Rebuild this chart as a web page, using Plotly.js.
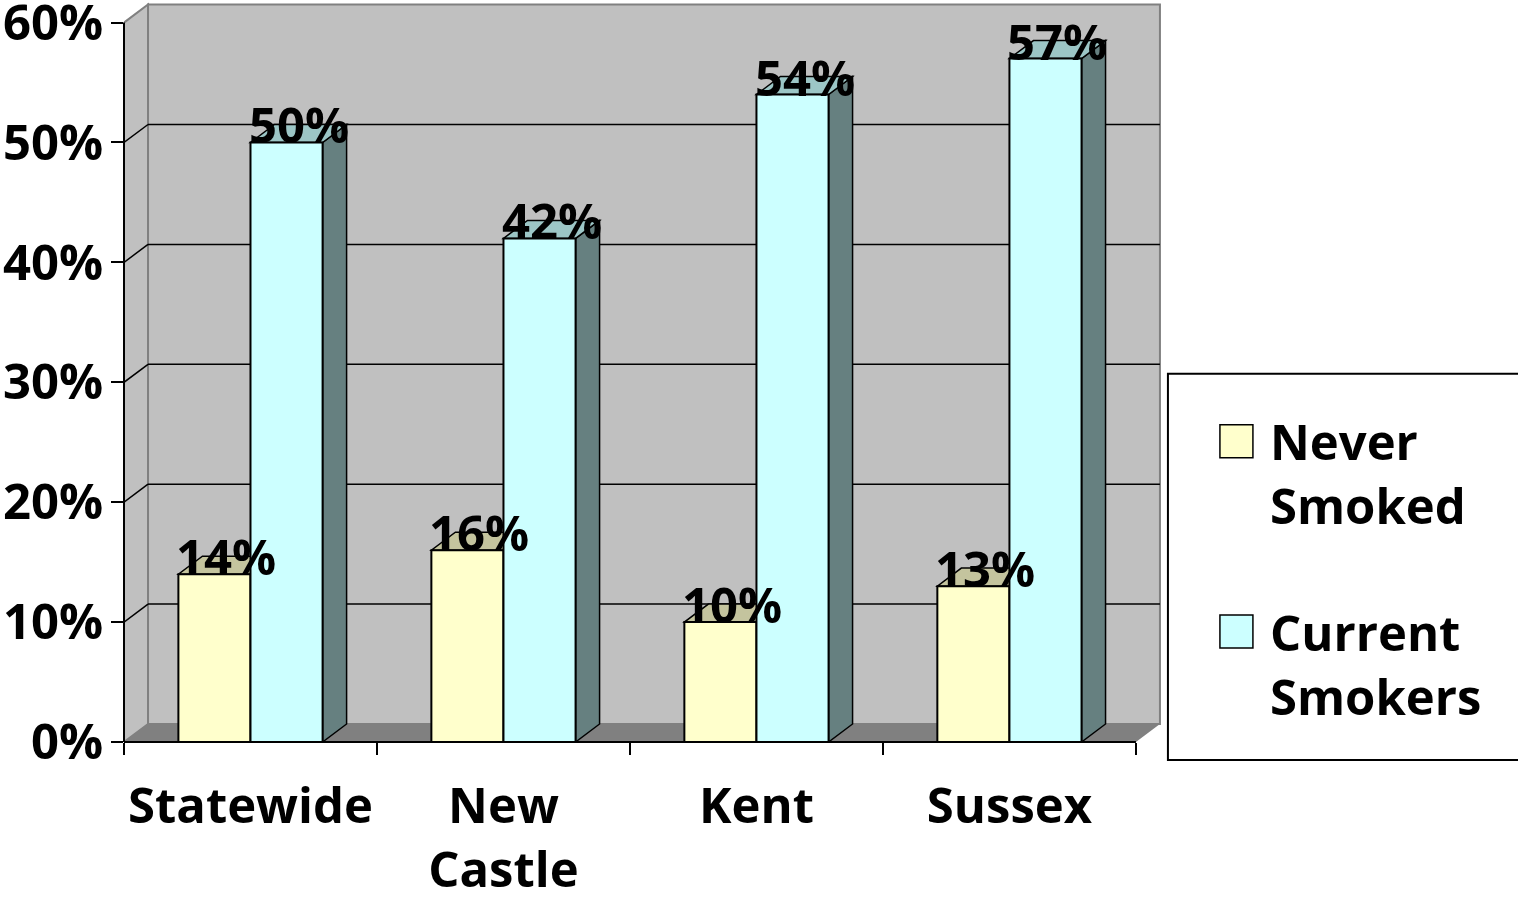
<!DOCTYPE html>
<html><head><meta charset="utf-8">
<script src="https://cdn.plot.ly/plotly-3.0.1.min.js"></script>
<style>html,body{margin:0;padding:0;background:#fff}#chart{width:1518px;height:906px}</style>
</head><body><div id="chart"></div>
<script>
// ---- data ----
const categories = ['Statewide', 'New Castle', 'Kent', 'Sussex'];
const categoryLabels = ['Statewide', 'New<br>Castle', 'Kent', 'Sussex'];
const seriesNames = ['Never Smoked', 'Current Smokers'];
const legendLabels = ['Never<br>Smoked', 'Current<br>Smokers'];
const neverSmoked = [14, 16, 10, 13];
const currentSmokers = [50, 42, 54, 57];
const yTickVals = [0, 10, 20, 30, 40, 50, 60];
const yTickText = ['0%', '10%', '20%', '30%', '40%', '50%', '60%'];

// ---- styling / geometry ----
const FONT = '"Open Sans", sans-serif';
const FS = 49;
const frontColors = ['#FFFFCC', '#CCFFFF'];
const topColors = ['#C4C49E', '#9CC6C6'];
const sideColors = ['#808066', '#668080'];
const W = 0.57;            // group width (category units)
const DX = 0.0949;         // depth offset in x (category units)
const DY = 1.502;          // depth offset in y (value units)
const YMAX = 60;
const YTOP = 61.8;
const XR = [-0.5, 3.5 + DX + 0.02];

const L = 124, B = 164;
const pxPerY = 719 / 60;
const pxPerX = 1012 / 4;
const plotH = YTOP * pxPerY;
const plotW = (XR[1] - XR[0]) * pxPerX;
const T = 906 - B - plotH;
const R = 1518 - L - plotW;
const pX = px => (px - L) / plotW;
const pY = py => (906 - B - py) / plotH;

const series = [neverSmoked, currentSmokers];
const traces = series.map((vals, s) => ({
  type: 'bar',
  name: seriesNames[s],
  x: categories,
  y: vals,
  width: W / 2,
  offset: s === 0 ? -W / 2 : 0,
  marker: {color: frontColors[s], line: {color: '#000', width: 2}},
  showlegend: false,
  hoverinfo: 'skip'
}));

const shapes = [];
const gray = '#808080';
shapes.push({type: 'path', xref: 'x', yref: 'y', layer: 'below',
  path: `M${-0.5 + DX},${DY} L${-0.5 + DX},${YMAX + DY} L${3.5 + DX},${YMAX + DY} L${3.5 + DX},${DY} Z`,
  fillcolor: '#C0C0C0', line: {color: gray, width: 2}});
shapes.push({type: 'path', xref: 'x', yref: 'y', layer: 'below',
  path: `M-0.5,0 L-0.5,${YMAX} L${-0.5 + DX},${YMAX + DY} L${-0.5 + DX},${DY} Z`,
  fillcolor: '#C0C0C0', line: {color: gray, width: 2}});
shapes.push({type: 'path', xref: 'x', yref: 'y', layer: 'below',
  path: `M-0.5,0 L3.5,0 L${3.5 + DX},${DY} L${-0.5 + DX},${DY} Z`,
  fillcolor: '#808080', line: {width: 0}});
yTickVals.filter(v => v > 0 && v < YMAX).forEach(v => {
  shapes.push({type: 'line', xref: 'x', yref: 'y', layer: 'below',
    x0: -0.5 + DX, x1: 3.5 + DX, y0: v + DY, y1: v + DY, line: {color: '#000', width: 1.5}});
  shapes.push({type: 'line', xref: 'x', yref: 'y', layer: 'below',
    x0: -0.5, x1: -0.5 + DX, y0: v, y1: v + DY, line: {color: '#000', width: 1.5}});
});
categories.forEach((c, i) => {
  series.forEach((vals, s) => {
    const xl = i - W / 2 + s * W / 2, xr = xl + W / 2, v = vals[i];
    shapes.push({type: 'path', xref: 'x', yref: 'y', layer: 'below',
      path: `M${xr},0 L${xr},${v} L${xr + DX},${v + DY} L${xr + DX},${DY} Z`,
      fillcolor: sideColors[s], line: {color: '#000', width: 1.5}});
    shapes.push({type: 'path', xref: 'x', yref: 'y', layer: 'below',
      path: `M${xl},${v} L${xr},${v} L${xr + DX},${v + DY} L${xl + DX},${v + DY} Z`,
      fillcolor: topColors[s], line: {color: '#000', width: 1.5}});
  });
});
shapes.push({type: 'line', xref: 'x domain', yref: 'y', x0: 0, x1: 0, y0: 0, y1: YMAX,
  line: {color: '#000', width: 2}});
shapes.push({type: 'line', xref: 'x', yref: 'y domain', x0: -0.5, x1: 3.5, y0: 0, y1: 0,
  line: {color: '#000', width: 2}});
shapes.push({type: 'rect', xref: 'paper', yref: 'paper', x0: pX(1168), x1: pX(1540), y0: pY(760), y1: pY(374),
  fillcolor: '#fff', line: {color: '#000', width: 2}});
const swTop = [425, 615];
swTop.forEach((t, s) => {
  shapes.push({type: 'rect', xref: 'paper', yref: 'paper', x0: pX(1220), x1: pX(1253), y0: pY(t + 33), y1: pY(t),
    fillcolor: frontColors[s], line: {color: '#000', width: 1.5}});
});

const annotations = [];
categories.forEach((c, i) => {
  series.forEach((vals, s) => {
    annotations.push({xref: 'x', yref: 'y', x: i - W / 4 + s * W / 2 + DX / 2, y: vals[i] + DY,
      text: vals[i] + '%', showarrow: false, xanchor: 'center', yanchor: 'middle',
      font: {family: FONT, size: FS, color: '#000', weight: 'bold'}});
  });
});
const legTop = [406, 597];
legendLabels.forEach((t, s) => {
  annotations.push({xref: 'paper', yref: 'paper', x: pX(1268), y: pY(legTop[s]), text: t,
    showarrow: false, xanchor: 'left', yanchor: 'top', align: 'left',
    font: {family: FONT, size: FS, color: '#000', weight: 'bold'}});
});

const layout = {
  width: 1518, height: 906,
  margin: {l: L, r: R, t: T, b: B, pad: 0},
  paper_bgcolor: '#fff', plot_bgcolor: 'rgba(0,0,0,0)',
  showlegend: false,
  font: {family: FONT, size: FS, color: '#000', weight: 'bold'},
  xaxis: {type: 'category', range: XR, tickmode: 'array', tickvals: categories, ticktext: categoryLabels,
    tickson: 'boundaries', ticks: 'outside', ticklen: 12, tickwidth: 2, tickcolor: '#000', tickangle: 0,
    showline: false, showgrid: false, zeroline: false, ticklabelstandoff: 31, ticklabeloverflow: 'allow',
    tickfont: {family: FONT, size: FS, color: '#000', weight: 'bold'}},
  yaxis: {range: [0, YTOP], tickmode: 'array', tickvals: yTickVals, ticktext: yTickText,
    ticks: 'outside', ticklen: 12, tickwidth: 2, tickcolor: '#000',
    showline: false, showgrid: false, zeroline: false, ticklabelstandoff: -2, ticklabeloverflow: 'allow',
    tickfont: {family: FONT, size: FS, color: '#000', weight: 'bold'}},
  shapes: shapes,
  annotations: annotations
};
Plotly.newPlot('chart', traces, layout, {staticPlot: true, displayModeBar: false});
</script></body></html>
